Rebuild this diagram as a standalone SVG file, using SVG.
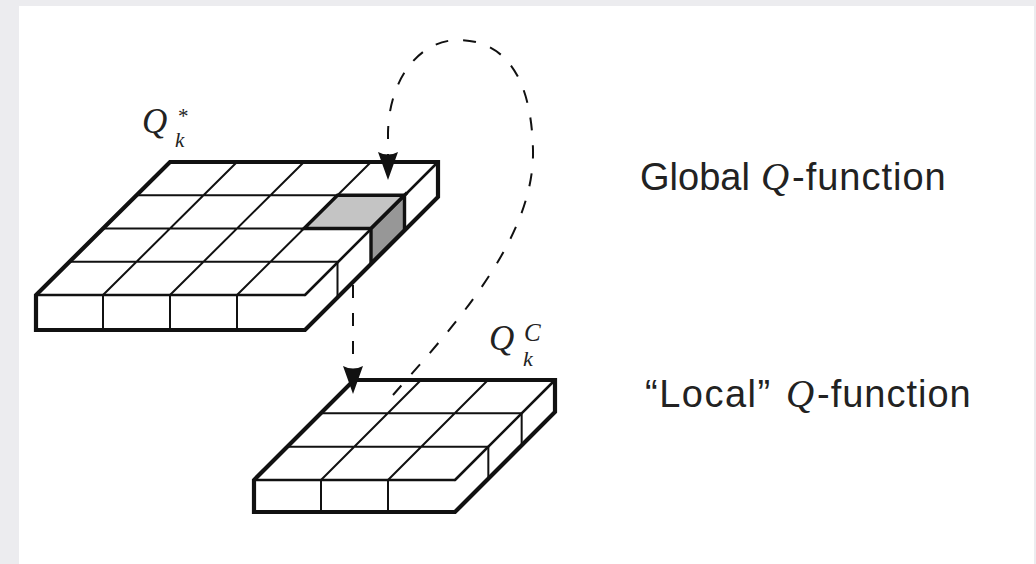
<svg xmlns="http://www.w3.org/2000/svg" width="1036" height="564" viewBox="0 0 1036 564">
  <defs>
    <style>
      .face { fill: #ffffff; stroke: none; }
      .grid { fill: none; stroke: #111; stroke-width: 2; stroke-linecap: round; }
      .edge { fill: none; stroke: #111; stroke-width: 2.6; stroke-linecap: round; }
      .outline { fill: none; stroke: #111; stroke-width: 4.2; stroke-linejoin: miter; }
      .hl-top { fill: #c4c4c4; stroke: #111; stroke-width: 3.4; stroke-linejoin: miter; }
      .hl-side { fill: #979797; stroke: #111; stroke-width: 3.4; stroke-linejoin: miter; }
      .dash { fill: none; stroke: #111; stroke-width: 2; stroke-dasharray: 13 15; }
      .math { font-family: "Liberation Serif", "DejaVu Serif", serif; font-style: italic; fill: #222; }
      .lbl { font-family: "Liberation Sans", "DejaVu Sans", sans-serif; font-size: 38px; fill: #222; }
    </style>
    <marker id="head" viewBox="-30 -12 32 24" refX="0" refY="0" markerWidth="32" markerHeight="24" markerUnits="userSpaceOnUse" orient="auto">
      <path d="M0,0 L-28,-10 Q-23,0 -28,10 Z" fill="#111"/>
    </marker>
  </defs>

  <rect x="0" y="0" width="1036" height="564" fill="#ececef"/>
  <rect x="19" y="6" width="1015" height="558" fill="#ffffff"/>

  <g id="global-q">
    <polygon class="face" points="170,162 438,162 438,197 305,330 36,330 36,295"/>
    <polygon class="hl-top" points="337.5,195.25 404.5,195.25 371,228.5 304,228.5"/>
    <polygon class="hl-side" points="404.5,195.25 371,228.5 371,263.5 404.5,230.25"/>
    <path class="grid" d="M136.5,195.25 H337.5 M103,228.5 H304 M69.5,261.75 H337.5
      M237,162 L103,295 M304,162 L170,295 M371,162 L237,295
      M103,295 V330 M170,295 V330 M237,295 V330
      M337.5,261.75 V296.75"/>
    <path class="edge" d="M36,295 H305 M438,162 L305,295"/>
    <polygon class="outline" points="170,162 438,162 438,197 305,330 36,330 36,295"/>
    <text class="math" x="142" y="133" font-size="35">Q<tspan x="175" y="147" font-size="21">k</tspan><tspan x="177" y="123" font-size="21">*</tspan></text>
  </g>

  <g id="local-q">
    <polygon class="face" points="354,380 555,380 555,412 455,512 254,512 254,480"/>
    <path class="grid" d="M320.67,413.33 H521.67 M287.33,446.67 H488.33
      M421,380 L321,480 M488,380 L388,480
      M321,480 V512 M388,480 V512
      M521.67,413.33 V445.33 M488.33,446.67 V478.67"/>
    <path class="edge" d="M254,480 H455 M555,380 L455,480"/>
    <polygon class="outline" points="354,380 555,380 555,412 455,512 254,512 254,480"/>
    <text class="math" x="489" y="350" font-size="35">Q<tspan x="523" y="366" font-size="22">k</tspan><tspan x="524" y="341" font-size="25">C</tspan></text>
  </g>

  <g id="connectors">
    <path class="dash" marker-end="url(#head)" d="M393,395 C450,330 535,240 533,150 C531,60 492,40 458,40 C420,40 389,78 388,133 L388,180"/>
    <path class="dash" marker-end="url(#head)" d="M353,285 L353,394"/>
  </g>

  <g id="labels">
    <text class="lbl" y="190"><tspan x="640">Global</tspan><tspan class="math" x="761" font-size="39">Q</tspan><tspan x="792" letter-spacing="1">-function</tspan></text>
    <text class="lbl" y="407"><tspan x="645" letter-spacing="1.5">“Local”</tspan><tspan class="math" x="786" font-size="39">Q</tspan><tspan x="817" letter-spacing="1">-function</tspan></text>
  </g>
</svg>
